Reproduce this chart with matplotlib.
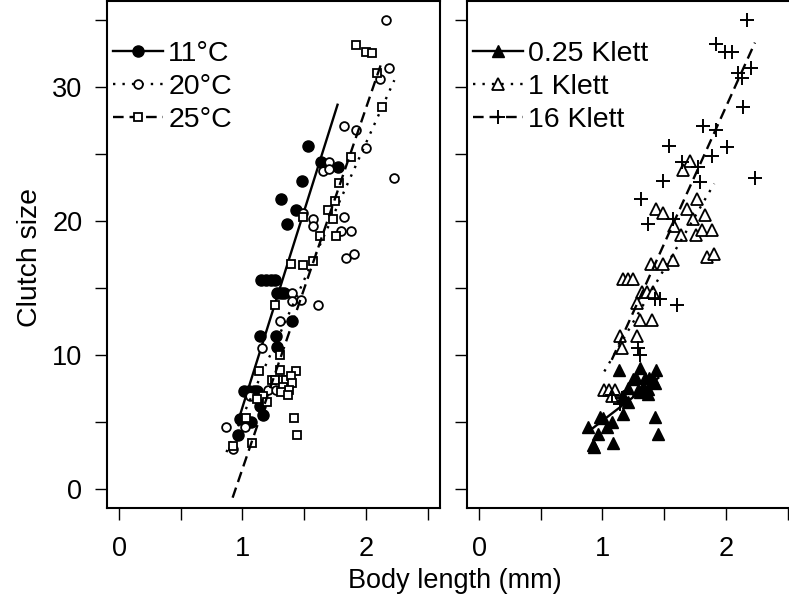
import numpy as np
import matplotlib
matplotlib.use("Agg")
import matplotlib.pyplot as plt
from matplotlib.lines import Line2D

# --- left panel: temperature groups ---
t11_x = [1.53, 1.64, 1.77, 1.48, 1.31, 1.43, 1.36, 1.15, 1.19, 1.23, 1.26, 1.28, 1.31, 1.34,
         1.40, 1.14, 1.27, 1.28, 1.01, 1.05, 1.09, 1.12, 1.14, 1.17, 0.98, 1.07, 0.96]
t11_y = [25.6, 24.4, 24.0, 23.0, 21.6, 20.8, 19.8, 15.6, 15.6, 15.6, 15.6, 14.6, 14.6, 14.6,
         12.5, 11.4, 11.4, 10.6, 7.3, 7.3, 7.3, 7.3, 6.2, 5.5, 5.2, 5.0, 4.0]

t20_x = [2.16, 2.19, 2.11, 1.82, 1.92, 2.00, 2.23, 1.70, 1.65, 1.70, 1.49, 1.57, 1.57, 1.82,
         1.80, 1.88, 1.84, 1.90, 1.61, 1.40, 1.40, 1.47, 1.30, 1.16, 1.21, 1.27, 1.06, 0.87,
         1.02, 0.92]
t20_y = [35.0, 31.4, 30.6, 27.1, 26.8, 25.4, 23.2, 24.4, 23.7, 23.9, 20.6, 20.1, 19.6, 20.3,
         19.25, 19.25, 17.2, 17.5, 13.7, 14.6, 14.05, 14.1, 12.5, 10.5, 7.4, 7.4, 6.9, 4.6,
         4.6, 3.0]

t25_x = [1.92, 2.00, 2.05, 2.09, 2.13, 1.88, 1.78, 1.75, 1.69, 1.73, 1.49, 1.63, 1.76, 1.39,
         1.49, 1.57, 1.26, 1.30, 1.30, 1.43, 1.13, 1.24, 1.26, 1.33, 1.35, 1.39, 1.40, 1.33,
         1.38, 1.31, 1.37, 1.17, 1.12, 1.20, 1.03, 1.42, 1.44, 1.08, 0.92]
t25_y = [33.1, 32.6, 32.5, 31.0, 28.5, 24.75, 22.8, 21.5, 20.8, 20.1, 20.3, 18.9, 18.9, 16.8,
         16.7, 17.0, 13.7, 10.0, 8.9, 8.8, 8.8, 8.1, 8.1, 8.1, 8.1, 8.4, 7.9, 7.6,
         7.4, 7.2, 7.0, 6.9, 6.7, 6.5, 5.3, 5.3, 4.0, 3.4, 3.2]

# --- right panel: food level groups ---
k025_x = [1.134, 1.304, 1.433, 1.245, 1.271, 1.344, 1.377, 1.411, 1.425, 1.209, 1.285, 1.33,
          1.371, 1.304, 1.371, 1.168, 1.209, 1.168, 1.425, 0.98, 1.007, 1.08, 1.034, 0.885,
          0.966, 1.088, 0.926, 0.934, 1.452]
k025_y = [8.9, 9.0, 8.9, 8.2, 8.25, 8.25, 8.25, 8.1, 7.9, 7.5, 7.4, 7.6,
          7.45, 7.26, 7.1, 6.9, 6.5, 5.6, 5.35, 5.4, 5.3, 5.0, 4.65, 4.65,
          4.1, 3.46, 3.3, 3.1, 4.1]

k1_x = [1.708, 1.654, 1.763, 1.433, 1.487, 1.687, 1.83, 1.735, 1.58, 1.64, 1.76, 1.81, 1.884,
        1.85, 1.905, 1.395, 1.49, 1.573, 1.168, 1.209, 1.25, 1.317, 1.363, 1.411, 1.277,
        1.304, 1.403, 1.142, 1.282, 1.155, 1.015, 1.055, 1.10, 1.08]
k1_y = [24.5, 23.8, 21.6, 20.9, 20.6, 20.9, 20.4, 20.1, 19.6, 18.95, 18.95, 19.3, 19.3,
        17.3, 17.55, 16.8, 16.8, 17.1, 15.65, 15.65, 15.65, 14.7, 14.7, 14.7, 13.9,
        12.6, 12.6, 11.4, 11.4, 10.5, 7.4, 7.4, 7.4, 6.9]

k16_x = [2.17, 1.92, 1.99, 2.05, 2.20, 2.10, 2.13, 2.135, 1.816, 1.92, 1.54, 2.005, 1.884,
         1.646, 1.77, 2.235, 1.49, 1.79, 1.316, 1.365, 1.57, 1.425, 1.466, 1.606, 1.29, 1.30,
         1.075, 1.14, 1.155]
k16_y = [35.0, 33.2, 32.6, 32.6, 31.4, 31.0, 30.65, 28.5, 27.1, 26.8, 25.6, 25.5, 24.8,
         24.4, 24.05, 23.2, 23.0, 22.9, 21.6, 19.8, 20.1, 14.15, 14.15, 13.7, 10.5, 10.0,
         7.0, 6.3, 6.8]

# fitted regression lines (intercept, slope)
temp_labels = ["11°C", "20°C", "25°C"]
temp_fits = [(-23.2, 29.3), (-15.0, 20.4), (-25.4, 26.9)]
klett_labels = ["0.25 Klett", "1 Klett", "16 Klett"]
klett_fits = [(-1.98, 7.07), (-7.21, 15.74), (-12.3, 20.4)]

plt.rcParams['font.family'] = ['Liberation Sans', 'DejaVu Sans']
plt.rcParams['font.size'] = 19.5

LW = 1.7
STYLES = [
    dict(linestyle='-'),
    dict(linestyle=(0, (1, 3))),
    dict(linestyle=(0, (4.5, 2.5))),
]


def draw_panel(ax, groups, markers, fits, labels, show_ylabels):
    handles = []
    for (gx, gy), mk, fit, sty, lab in zip(groups, markers, fits, STYLES, labels):
        gx = np.asarray(gx)
        gy = np.asarray(gy)
        ax.plot(gx, gy, linestyle='none', color='black', **mk)
        xs = np.array([gx.min(), gx.max()])
        ax.plot(xs, fit[0] + fit[1] * xs, color='black', lw=LW, **sty)
        handles.append(Line2D([], [], color='black', lw=LW, label=lab, **sty, **mk))

    ax.set_xlim(-0.1, 2.6)
    ax.set_ylim(-1.4, 36.4)
    ax.set_xticks([0, 0.5, 1, 1.5, 2, 2.5])
    ax.set_xticklabels(['0', '', '1', '', '2', ''])
    ax.set_yticks([0, 5, 10, 15, 20, 25, 30, 35])
    if show_ylabels:
        ax.set_yticklabels(['0', '', '10', '', '20', '', '30', ''])
    else:
        ax.set_yticklabels([])
    ax.tick_params(axis='y', direction='out', length=8.6, width=1.0, pad=9)
    ax.tick_params(axis='x', direction='out', length=8.6, width=1.0, pad=12)
    for sp in ax.spines.values():
        sp.set_linewidth(1.5)

    ax.legend(handles=handles, loc='upper left', bbox_to_anchor=(0.018, 0.922),
              frameon=False, borderpad=0, borderaxespad=0, handlelength=1.75,
              handletextpad=0.2, labelspacing=0.25, numpoints=1, fontsize=20.5)


fig = plt.figure(figsize=(7.89, 6.01), dpi=100)
ax1 = fig.add_axes([106.7 / 789, 93.3 / 601, 333.3 / 789, 506.7 / 601])
ax2 = fig.add_axes([466.7 / 789, 93.3 / 601, 333.3 / 789, 506.7 / 601])

temp_markers = [
    dict(marker='o', markersize=8.0, markerfacecolor='black', markeredgewidth=1.0),
    dict(marker='o', markersize=6.3, markerfacecolor='white', markeredgewidth=1.3),
    dict(marker='s', markersize=5.8, markerfacecolor='white', markeredgewidth=1.3),
]
klett_markers = [
    dict(marker='^', markersize=8.0, markerfacecolor='black', markeredgewidth=1.0),
    dict(marker='^', markersize=8.0, markerfacecolor='white', markeredgewidth=1.3),
    dict(marker='+', markersize=10.0, markeredgewidth=1.4),
]

draw_panel(ax1, [(t11_x, t11_y), (t20_x, t20_y), (t25_x, t25_y)],
           temp_markers, temp_fits, temp_labels, True)
draw_panel(ax2, [(k025_x, k025_y), (k1_x, k1_y), (k16_x, k16_y)],
           klett_markers, klett_fits, klett_labels, False)

fig.text(30 / 789, 1 - 257 / 601, "Clutch size", rotation=90, ha='center', va='center',
         fontsize=20.5)
fig.text(455 / 789, 1 - 581 / 601, "Body length (mm)", ha='center', va='center')

fig.savefig("out.png", dpi=100)
plt.close(fig)
